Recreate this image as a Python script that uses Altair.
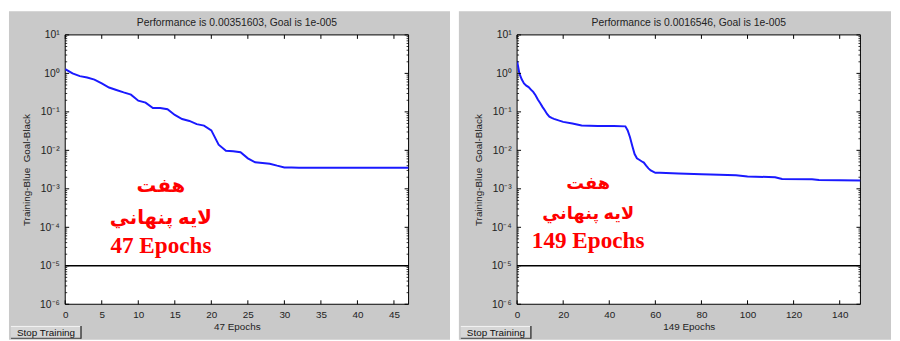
import altair as alt
import pandas as pd

# ---------------- data ----------------
left_epochs = list(range(48))
left_perf = [1.29, 1.0, 0.85, 0.78, 0.69, 0.55, 0.43, 0.37, 0.32, 0.28,
             0.195, 0.174, 0.126, 0.126, 0.117, 0.083, 0.065, 0.058, 0.048, 0.044,
             0.033, 0.014, 0.0098, 0.0095, 0.0089, 0.0062, 0.0049, 0.0047, 0.0045, 0.0040,
             0.0036, 0.00359, 0.00355, 0.00354, 0.00354, 0.00354, 0.00353, 0.00353, 0.00353, 0.00353,
             0.00352, 0.00352, 0.00352, 0.00352, 0.00352, 0.00352, 0.00352, 0.00351603]

right_epochs = [0, 1, 2, 3, 4, 5, 6, 7, 8, 9, 10, 11, 12, 13, 14, 15, 16, 18, 20, 24, 28, 35, 42, 47,
                48, 49, 50, 51, 52, 53, 54, 55, 56, 57, 58, 60, 62, 70, 80, 84, 95, 100, 112, 115,
                128, 131, 149]
right_perf = [2.1, 1.0, 0.70, 0.55, 0.48, 0.44, 0.38, 0.33, 0.27, 0.21, 0.17, 0.135, 0.11, 0.088,
              0.075, 0.070, 0.066, 0.060, 0.055, 0.050, 0.044, 0.043, 0.043, 0.042,
              0.033, 0.022, 0.013, 0.0080, 0.0062, 0.0057, 0.0052, 0.0048, 0.0040, 0.0034, 0.0030,
              0.0026, 0.00262, 0.0025, 0.0024, 0.00235, 0.00225, 0.0021, 0.0020, 0.0018,
              0.00178, 0.0017, 0.0016546]

goal = 1e-5

left_xticks = [0, 5, 10, 15, 20, 25, 30, 35, 40, 45]
right_xticks = [0, 20, 40, 60, 80, 100, 120, 140]
y_major = [1e-6, 1e-5, 1e-4, 1e-3, 1e-2, 1e-1, 1.0, 10.0]
y_labels = ["10\u207b\u2076", "10\u207b\u2075", "10\u207b\u2074", "10\u207b\u00b3",
            "10\u207b\u00b2", "10\u207b\u00b9", "10\u2070", "10\u00b9"]
y_minor = [m * 10.0 ** k for k in range(-6, 1) for m in range(2, 10)]

titles = ["Performance is 0.00351603, Goal is 1e-005",
          "Performance is 0.0016546, Goal is 1e-005"]
xtitles = ["47 Epochs", "149 Epochs"]
ytitle = "Training-Blue\u00a0 Goal-Black"
note_lines = ["\u0647\u0641\u062a", "\u0644\u0627\u064a\u0647 \u067e\u0646\u0647\u0627\u0646\u064a"]
button_text = "Stop Training"

# ---------------- styling ----------------
W, H = 348, 273
FONT = "Liberation Sans, Arial, Helvetica, sans-serif"
RED_FONT = "Times New Roman, Liberation Serif, DejaVu Sans, serif"
GREY = "#c9c9c9"
TXT = "#222222"
BLUE = "#1a1aff"

one = pd.DataFrame({"k": [0]})


def panel(epochs, perf, xmax, xticks, title, xtitle, bgx, note_x, note_y, ar_size):
    xs = alt.Scale(domain=[0, xmax], nice=False, zero=False)
    ys = alt.Scale(type="log", domain=[1e-6, 10], nice=False)

    xaxis = alt.Axis(values=xticks, ticks=False, domain=False, grid=False, format="d",
                     labelFont=FONT, labelFontSize=10, labelColor=TXT, labelPadding=5,
                     labelFlush=False, labelOverlap=False,
                     title=xtitle, titleFont=FONT, titleFontSize=10, titleFontWeight="normal",
                     titleColor=TXT, titlePadding=3, zindex=1)
    label_arr = "[" + ",".join("'" + s + "'" for s in y_labels) + "]"
    yaxis = alt.Axis(values=y_major, labelExpr=label_arr + "[round(log(datum.value)/LN10)+6]",
                     ticks=False, domain=False, grid=False,
                     labelFont=FONT, labelFontSize=10.5, labelColor=TXT, labelPadding=6,
                     labelOverlap=False,
                     title=ytitle, titleFont=FONT, titleFontSize=10, titleFontWeight="normal",
                     titleColor=TXT, titlePadding=8, zindex=1)

    bg = alt.Chart(one).mark_rect(color=GREY).encode(
        x=alt.value(bgx[0]), x2=alt.value(bgx[1]), y=alt.value(-24), y2=alt.value(309))
    plot_bg = alt.Chart(one).mark_rect(fill="white", stroke="black", strokeWidth=1).encode(
        x=alt.value(0), x2=alt.value(W), y=alt.value(0), y2=alt.value(H))

    # button
    bx0, bx1, by0, by1 = bgx[0] + 2, bgx[0] + 73, 295, 308
    btn = alt.Chart(one).mark_rect(color="#d6d6d6").encode(
        x=alt.value(bx0), x2=alt.value(bx1), y=alt.value(by0), y2=alt.value(by1))
    btn_hi = alt.Chart(one).mark_rule(color="#f4f4f4", strokeWidth=1).encode(
        x=alt.value(bx0), x2=alt.value(bx1), y=alt.value(by0 + 0.5))
    btn_sh = alt.Chart(one).mark_rule(color="#404040", strokeWidth=1.5).encode(
        x=alt.value(bx1), y=alt.value(by0), y2=alt.value(by1))
    btn_sh2 = alt.Chart(one).mark_rule(color="#404040", strokeWidth=1).encode(
        x=alt.value(bx0), x2=alt.value(bx1), y=alt.value(by1 - 0.5))
    btn_t = alt.Chart(one).mark_text(font=FONT, fontSize=10, color="#111111").encode(
        x=alt.value((bx0 + bx1) / 2), y=alt.value((by0 + by1) / 2 + 0.5), text=alt.value(button_text))

    df = pd.DataFrame({"epoch": epochs, "perf": perf})
    curve = alt.Chart(df).mark_line(color=BLUE, strokeWidth=2, clip=True).encode(
        x=alt.X("epoch:Q", scale=xs, axis=xaxis),
        y=alt.Y("perf:Q", scale=ys, axis=yaxis))

    goal_df = pd.DataFrame({"goal": [goal]})
    goal_line = alt.Chart(goal_df).mark_rule(color="black", strokeWidth=1.5).encode(
        y=alt.Y("goal:Q", scale=ys, axis=yaxis), x=alt.value(0), x2=alt.value(W))

    xt = pd.DataFrame({"t": xticks})
    xt_bot = alt.Chart(xt).mark_rule(color="black").encode(
        x=alt.X("t:Q", scale=xs, axis=xaxis), y=alt.value(H - 4), y2=alt.value(H))
    xt_top = alt.Chart(xt).mark_rule(color="black").encode(
        x=alt.X("t:Q", scale=xs, axis=xaxis), y=alt.value(0), y2=alt.value(4))
    ym = pd.DataFrame({"t": y_major})
    yn = pd.DataFrame({"t": y_minor})
    ym_l = alt.Chart(ym).mark_rule(color="black").encode(
        y=alt.Y("t:Q", scale=ys, axis=yaxis), x=alt.value(0), x2=alt.value(4))
    ym_r = alt.Chart(ym).mark_rule(color="black").encode(
        y=alt.Y("t:Q", scale=ys, axis=yaxis), x=alt.value(W - 4), x2=alt.value(W))
    yn_l = alt.Chart(yn).mark_rule(color="black", opacity=0.8).encode(
        y=alt.Y("t:Q", scale=ys, axis=yaxis), x=alt.value(0), x2=alt.value(2))
    yn_r = alt.Chart(yn).mark_rule(color="black", opacity=0.8).encode(
        y=alt.Y("t:Q", scale=ys, axis=yaxis), x=alt.value(W - 2), x2=alt.value(W))

    ttl = alt.Chart(one).mark_text(font=FONT, fontSize=10.5, color=TXT).encode(
        x=alt.value(W / 2), y=alt.value(-12), text=alt.value(title))

    n1 = alt.Chart(one).mark_text(font=RED_FONT, fontSize=ar_size, fontWeight="bold", color="#ff0000").encode(
        x=alt.value(note_x), y=alt.value(note_y[0]), text=alt.value(note_lines[0]))
    n2 = alt.Chart(one).mark_text(font=RED_FONT, fontSize=ar_size, fontWeight="bold", color="#ff0000").encode(
        x=alt.value(note_x), y=alt.value(note_y[1]), text=alt.value(note_lines[1]))
    n3 = alt.Chart(one).mark_text(font=RED_FONT, fontSize=23.5, fontWeight="bold", color="#ff0000").encode(
        x=alt.value(note_x), y=alt.value(note_y[2]), text=alt.value(xtitle))

    return alt.layer(bg, plot_bg, btn, btn_hi, btn_sh, btn_sh2, btn_t, curve, goal_line,
                     xt_bot, xt_top, ym_l, ym_r, yn_l, yn_r, ttl, n1, n2, n3).properties(
        width=W, height=H)


left = panel(left_epochs, left_perf, 47, left_xticks, titles[0], xtitles[0],
             (-57, 390), 97, (153, 186, 214), 20)
right = panel(right_epochs, right_perf, 149, right_xticks, titles[1], xtitles[1],
              (-59, 379), 72, (151, 182, 209), 18)

chart = alt.hconcat(left, right, spacing=7).properties(
    padding=0, background="white").configure_view(stroke="transparent")

chart.save("out.html", embed_options={"renderer": "svg", "actions": False})
